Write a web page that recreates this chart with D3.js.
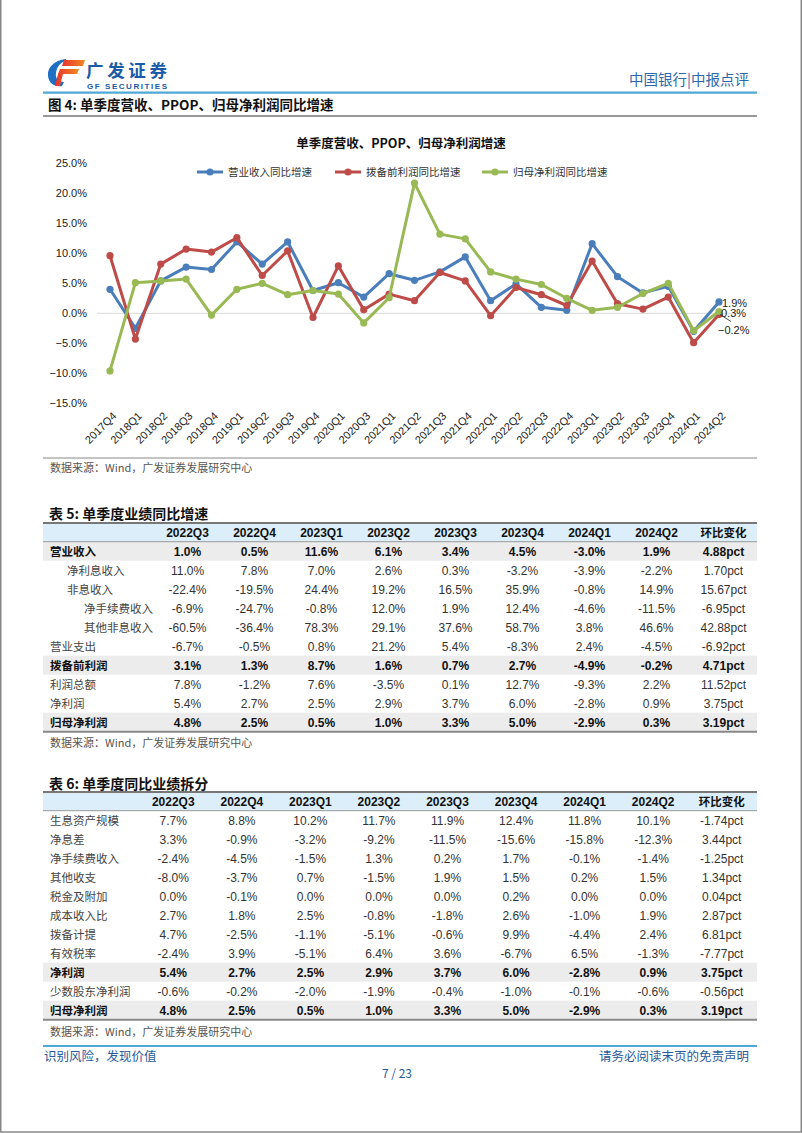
<!DOCTYPE html>
<html><head><meta charset="utf-8">
<script src="https://cdn.jsdelivr.net/npm/d3@7"></script>
<style>
html,body{margin:0;padding:0;background:#fff;}
svg{display:block;}
</style></head>
<body>
<svg id="page" width="802" height="1133"></svg>
<script>
// ---------- DATA ----------
const categories = ["2017Q4","2018Q1","2018Q2","2018Q3","2018Q4","2019Q1","2019Q2","2019Q3","2019Q4","2020Q1","2020Q3","2021Q1","2021Q2","2021Q3","2021Q4","2022Q1","2022Q2","2022Q3","2022Q4","2023Q1","2023Q2","2023Q3","2023Q4","2024Q1","2024Q2"];
const revenueYoY = [4.0,-2.5,5.4,7.7,7.3,11.9,8.2,11.9,3.8,5.1,2.7,6.6,5.5,6.9,9.4,2.1,4.9,1.0,0.5,11.6,6.1,3.4,4.5,-3.0,1.9];
const ppopYoY    = [9.6,-4.3,8.2,10.7,10.2,12.6,6.3,10.4,-0.7,7.9,0.6,3.2,2.1,6.8,5.4,-0.4,4.3,3.1,1.3,8.7,1.6,0.7,2.7,-4.9,-0.2];
const netProfitYoY = [-9.6,5.1,5.4,5.7,-0.3,4.0,5.0,3.1,3.8,3.2,-1.6,2.6,21.7,13.2,12.4,6.9,5.7,4.8,2.5,0.5,1.0,3.3,5.0,-2.9,0.3];
const seriesNames = ["营业收入同比增速","拨备前利润同比增速","归母净利润同比增速"];
const seriesColors = ["#4a7ebb","#be4b48","#98b954"];
const yTicks = [-15,-10,-5,0,5,10,15,20,25];

const table5Cols = ["2022Q3","2022Q4","2023Q1","2023Q2","2023Q3","2023Q4","2024Q1","2024Q2","环比变化"];
const table5Labels = ["营业收入","净利息收入","非息收入","净手续费收入","其他非息收入","营业支出","拨备前利润","利润总额","净利润","归母净利润"];
const table5Indent = [0,1,1,2,2,0,0,0,0,0];
const table5Bold = [true,false,false,false,false,false,true,false,false,true];
const table5Values = [
 ["1.0%","0.5%","11.6%","6.1%","3.4%","4.5%","-3.0%","1.9%","4.88pct"],
 ["11.0%","7.8%","7.0%","2.6%","0.3%","-3.2%","-3.9%","-2.2%","1.70pct"],
 ["-22.4%","-19.5%","24.4%","19.2%","16.5%","35.9%","-0.8%","14.9%","15.67pct"],
 ["-6.9%","-24.7%","-0.8%","12.0%","1.9%","12.4%","-4.6%","-11.5%","-6.95pct"],
 ["-60.5%","-36.4%","78.3%","29.1%","37.6%","58.7%","3.8%","46.6%","42.88pct"],
 ["-6.7%","-0.5%","0.8%","21.2%","5.4%","-8.3%","2.4%","-4.5%","-6.92pct"],
 ["3.1%","1.3%","8.7%","1.6%","0.7%","2.7%","-4.9%","-0.2%","4.71pct"],
 ["7.8%","-1.2%","7.6%","-3.5%","0.1%","12.7%","-9.3%","2.2%","11.52pct"],
 ["5.4%","2.7%","2.5%","2.9%","3.7%","6.0%","-2.8%","0.9%","3.75pct"],
 ["4.8%","2.5%","0.5%","1.0%","3.3%","5.0%","-2.9%","0.3%","3.19pct"]
];

const table6Cols = table5Cols;
const table6Labels = ["生息资产规模","净息差","净手续费收入","其他收支","税金及附加","成本收入比","拨备计提","有效税率","净利润","少数股东净利润","归母净利润"];
const table6Bold = [false,false,false,false,false,false,false,false,true,false,true];
const table6Values = [
 ["7.7%","8.8%","10.2%","11.7%","11.9%","12.4%","11.8%","10.1%","-1.74pct"],
 ["3.3%","-0.9%","-3.2%","-9.2%","-11.5%","-15.6%","-15.8%","-12.3%","3.44pct"],
 ["-2.4%","-4.5%","-1.5%","1.3%","0.2%","1.7%","-0.1%","-1.4%","-1.25pct"],
 ["-8.0%","-3.7%","0.7%","-1.5%","1.9%","1.5%","0.2%","1.5%","1.34pct"],
 ["0.0%","-0.1%","0.0%","0.0%","0.0%","0.2%","0.0%","0.0%","0.04pct"],
 ["2.7%","1.8%","2.5%","-0.8%","-1.8%","2.6%","-1.0%","1.9%","2.87pct"],
 ["4.7%","-2.5%","-1.1%","-5.1%","-0.6%","9.9%","-4.4%","2.4%","6.81pct"],
 ["-2.4%","3.9%","-5.1%","6.4%","3.6%","-6.7%","6.5%","-1.3%","-7.77pct"],
 ["5.4%","2.7%","2.5%","2.9%","3.7%","6.0%","-2.8%","0.9%","3.75pct"],
 ["-0.6%","-0.2%","-2.0%","-1.9%","-0.4%","-1.0%","-0.1%","-0.6%","-0.56pct"],
 ["4.8%","2.5%","0.5%","1.0%","3.3%","5.0%","-2.9%","0.3%","3.19pct"]
];

// ---------- DRAW ----------
const CJK = "'Noto Sans CJK SC', sans-serif";
const LAT = "'Liberation Sans', Arial, sans-serif";
const svg = d3.select("#page");

// page frame
svg.append("rect").attr("x",0.75).attr("y",-2).attr("width",800.5).attr("height",1134)
  .attr("fill","none").attr("stroke","#888").attr("stroke-width",1.5);

// logo
const logo = svg.append("g");
const grad = svg.append("defs").append("linearGradient").attr("id","lg").attr("x1","0").attr("x2","1");
grad.append("stop").attr("offset","0").attr("stop-color","#e8322c");
grad.append("stop").attr("offset","1").attr("stop-color","#f08a24");
logo.append("path").attr("d","M66,59 C54,60 47,68 48,76 C49,84 55,87 62,86 L64,82 C58,82 55,78 56,73 C57,66 61,62 66,61 Z").attr("fill","#1f6fc2");
logo.append("path").attr("d","M64,60 L85,60 L83,66 L62,66 Z").attr("fill","url(#lg)");
logo.append("path").attr("d","M60,69 L79,69 L77,74 L63,74 L60,86 L55,86 L58,74 Z").attr("fill","url(#lg)");
logo.append("text").attr("x",86).attr("y",76.5).attr("font-family",CJK).attr("font-weight","bold")
  .attr("font-size",17.5).attr("fill","#1a5aa6").attr("textLength",81).text("广发证券");
logo.append("text").attr("x",87).attr("y",89).attr("font-family",LAT).attr("font-weight","bold")
  .attr("font-size",8).attr("fill","#1a5aa6").attr("textLength",80).text("GF SECURITIES");

svg.append("text").attr("x",749).attr("y",85).attr("text-anchor","end").attr("font-family",CJK)
  .attr("font-size",14.5).attr("fill","#2d68a8").text("中国银行|中报点评");
svg.append("line").attr("x1",43).attr("x2",757).attr("y1",92.7).attr("y2",92.7).attr("stroke","#4fa8d6").attr("stroke-width",2.2);

svg.append("text").attr("x",48).attr("y",110).attr("font-family",CJK).attr("font-weight","bold")
  .attr("font-size",13.5).attr("fill","#111").text("图 4: 单季度营收、PPOP、归母净利润同比增速");
svg.append("line").attr("x1",43).attr("x2",757).attr("y1",116).attr("y2",116).attr("stroke","#333").attr("stroke-width",1);

// chart
svg.append("text").attr("x",401).attr("y",148).attr("text-anchor","middle").attr("font-family",CJK)
  .attr("font-weight","bold").attr("font-size",12.5).attr("fill","#111").text("单季度营收、PPOP、归母净利润增速");

const x = d3.scalePoint().domain(categories).range([110,719]);
const y = d3.scaleLinear().domain([-15,25]).range([403.3,163.3]);

const yAxis = svg.append("g").attr("transform","translate(97,0)")
  .call(d3.axisLeft(y).tickValues(yTicks).tickSize(0).tickPadding(10).tickFormat(d=>d3.format(".1f")(d)+"%"));
yAxis.select(".domain").remove();
yAxis.selectAll("text").attr("font-family",LAT).attr("font-size",11).attr("fill","#222");

svg.append("line").attr("x1",97).attr("x2",740).attr("y1",y(0)).attr("y2",y(0)).attr("stroke","#d9d9d9").attr("stroke-width",1);

const xAxis = svg.append("g").attr("transform","translate(0,410)")
  .call(d3.axisBottom(x).tickSize(0));
xAxis.select(".domain").remove();
xAxis.selectAll("text").attr("font-family",LAT).attr("font-size",11).attr("fill","#222")
  .attr("text-anchor","end").attr("y",0).attr("dy","0.35em").attr("transform","translate(4,4) rotate(-45)");

const seriesData = [revenueYoY, ppopYoY, netProfitYoY];
const line = d3.line().x((d,i)=>x(categories[i])).y(d=>y(d));
seriesData.forEach((s,k)=>{
  const g = svg.append("g");
  g.append("path").datum(s).attr("d",line).attr("fill","none").attr("stroke",seriesColors[k])
    .attr("stroke-width",3).attr("stroke-linejoin","round");
  g.selectAll("circle").data(s).join("circle").attr("cx",(d,i)=>x(categories[i])).attr("cy",d=>y(d))
    .attr("r",3.6).attr("fill",seriesColors[k]);
});

// end labels
const lastI = categories.length-1;
const lx = x(categories[lastI]);
const endLabels = [
  {v: revenueYoY[lastI], dx: 3, dy: 1},
  {v: netProfitYoY[lastI], dx: 2, dy: 1.5},
  {v: ppopYoY[lastI], dx: -1, dy: 15.5}
];
svg.append("line").attr("x1",lx+1).attr("y1",y(ppopYoY[lastI])).attr("x2",lx+12).attr("y2",y(ppopYoY[lastI])+7)
  .attr("stroke","#222").attr("stroke-width",0.8);
endLabels.forEach(l=>{
  svg.append("text").attr("x",lx+l.dx).attr("y",y(l.v)+l.dy).attr("dy","0.35em").attr("font-family",LAT)
    .attr("font-size",11).attr("fill","#222").text(d3.format(".1f")(l.v)+"%");
});

// legend
const legendX = [197,335,482];
seriesNames.forEach((n,k)=>{
  const g = svg.append("g").attr("transform",`translate(${legendX[k]},172)`);
  g.append("line").attr("x1",0).attr("x2",26).attr("stroke",seriesColors[k]).attr("stroke-width",3);
  g.append("circle").attr("cx",13).attr("r",3.6).attr("fill",seriesColors[k]);
  g.append("text").attr("x",31).attr("dy","0.36em").attr("font-family",CJK).attr("font-size",10.5)
    .attr("fill","#333").text(n);
});

svg.append("line").attr("x1",43).attr("x2",757).attr("y1",458).attr("y2",458).attr("stroke","#888").attr("stroke-width",1);

function source(yPos){
  svg.append("text").attr("x",50).attr("y",yPos).attr("dy","0.35em").attr("font-family",CJK)
    .attr("font-size",11).attr("fill","#555").text("数据来源：Wind，广发证券发展研究中心");
}
source(468.5);

// tables
function table(opts){
  const {title, titleY, top, cols, labels, values, bold, indent, range} = opts;
  svg.append("text").attr("x",49).attr("y",titleY).attr("dy","0.36em").attr("font-family",CJK)
    .attr("font-weight","bold").attr("font-size",14).attr("fill","#111").text(title);
  const xb = d3.scaleBand().domain(cols).range(range);
  const rowH = 19, headH = 18.7;
  const ry = d3.scaleBand().domain(d3.range(labels.length)).range([top+headH, top+headH+rowH*labels.length]);
  svg.append("rect").attr("x",43).attr("y",top).attr("width",714).attr("height",headH).attr("fill","#dbeefa");
  labels.forEach((lab,i)=>{
    if(bold[i]) svg.append("rect").attr("x",43).attr("y",ry(i)).attr("width",714).attr("height",rowH).attr("fill","#ececec");
  });
  svg.append("line").attr("x1",43).attr("x2",757).attr("y1",top).attr("y2",top).attr("stroke","#777").attr("stroke-width",2);
  svg.append("line").attr("x1",43).attr("x2",757).attr("y1",top+headH).attr("y2",top+headH).attr("stroke","#999").attr("stroke-width",1);
  const bottom = top+headH+rowH*labels.length;
  svg.append("line").attr("x1",43).attr("x2",757).attr("y1",bottom).attr("y2",bottom).attr("stroke","#888").attr("stroke-width",2);
  cols.forEach(c=>{
    svg.append("text").attr("x",xb(c)+xb.bandwidth()/2).attr("y",top+headH/2+0.5).attr("dy","0.36em")
      .attr("text-anchor","middle").attr("font-family", /[\u4e00-\u9fff]/.test(c)?CJK:LAT)
      .attr("font-weight","bold").attr("font-size",/[\u4e00-\u9fff]/.test(c)?11.5:12).attr("fill","#111").text(c);
  });
  labels.forEach((lab,i)=>{
    const cy = ry(i)+rowH/2+0.5;
    svg.append("text").attr("x",50+(indent? indent[i]*17:0)).attr("y",cy).attr("dy","0.36em")
      .attr("font-family",CJK).attr("font-size",11.5).attr("font-weight",bold[i]?"bold":"normal")
      .attr("fill",bold[i]?"#111":"#444").text(lab);
    values[i].forEach((v,j)=>{
      svg.append("text").attr("x",xb(cols[j])+xb.bandwidth()/2).attr("y",cy).attr("dy","0.36em")
        .attr("text-anchor","middle").attr("font-family",LAT).attr("font-size",12)
        .attr("font-weight",bold[i]?"bold":"normal").attr("fill",bold[i]?"#111":"#333").text(v);
    });
  });
}

table({title:"表 5: 单季度业绩同比增速", titleY:514, top:523, cols:table5Cols, labels:table5Labels,
  values:table5Values, bold:table5Bold, indent:table5Indent, range:[154,757]});
source(743.5);

table({title:"表 6: 单季度同比业绩拆分", titleY:784, top:792, cols:table6Cols, labels:table6Labels,
  values:table6Values, bold:table6Bold, indent:null, range:[139,756]});
source(1032.5);

svg.append("line").attr("x1",43).attr("x2",757).attr("y1",1046).attr("y2",1046).attr("stroke","#4fa8d6").attr("stroke-width",2);

// footer
svg.append("text").attr("x",44).attr("y",1056).attr("dy","0.36em").attr("font-family",CJK)
  .attr("font-size",12.5).attr("fill","#2a5a9c").text("识别风险，发现价值");
svg.append("text").attr("x",749).attr("y",1056).attr("dy","0.36em").attr("text-anchor","end").attr("font-family",CJK)
  .attr("font-size",12.5).attr("fill","#2a5a9c").text("请务必阅读末页的免责声明");
svg.append("text").attr("x",397).attr("y",1074).attr("dy","0.36em").attr("text-anchor","middle").attr("font-family",CJK)
  .attr("font-size",12).attr("fill","#2a5a9c").text("7 / 23");
</script>
</body></html>
